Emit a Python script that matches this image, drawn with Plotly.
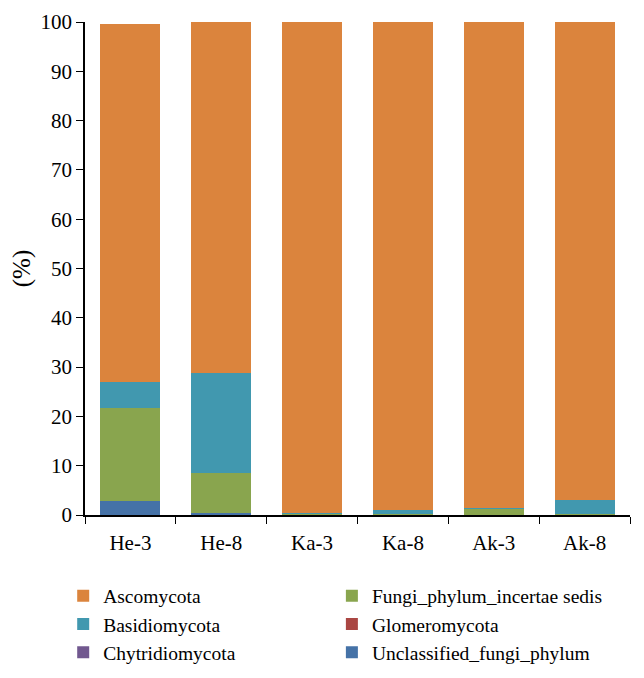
import plotly.graph_objects as go

categories = ["He-3", "He-8", "Ka-3", "Ka-8", "Ak-3", "Ak-8"]
unclassified = [2.9, 0.5, 0.05, 0.05, 0.05, 0.1]
glomeromycota = [0.0, 0.0, 0.0, 0.0, 0.0, 0.0]
chytridiomycota = [0.0, 0.0, 0.0, 0.0, 0.0, 0.0]
incertae = [18.8, 8.1, 0.3, 0.1, 1.3, 0.2]
basidiomycota = [5.3, 20.3, 0.05, 0.85, 0.05, 2.7]
ascomycota = [72.6, 71.1, 99.6, 99.4, 99.0, 97.4]

# (name, values, colour, legend column, rank within column)
series = [
    ("Unclassified_fungi_phylum", unclassified, "#4572A7", "legend2", 3),
    ("Glomeromycota", glomeromycota, "#AA4643", "legend2", 2),
    ("Chytridiomycota", chytridiomycota, "#71588F", "legend", 3),
    ("Fungi_phylum_incertae sedis", incertae, "#89A54E", "legend2", 1),
    ("Basidiomycota", basidiomycota, "#4198AF", "legend", 2),
    ("Ascomycota", ascomycota, "#DB843D", "legend", 1),
]

fig = go.Figure()
for name, vals, color, leg, rank in series:
    fig.add_trace(go.Bar(x=categories, y=vals, name=name,
                         marker=dict(color=color, line=dict(width=0)),
                         legend=leg, legendrank=rank))

font = "Liberation Serif"
leg_common = dict(orientation="v", xanchor="left", yref="container", y=0.1515, yanchor="top",
                  traceorder="normal", font=dict(size=19.5), itemwidth=30,
                  tracegroupgap=0, bgcolor="rgba(0,0,0,0)")
fig.update_layout(
    barmode="stack",
    bargap=0.34,
    width=636, height=670,
    margin=dict(l=77, r=14, t=14, b=163),
    plot_bgcolor="white", paper_bgcolor="white",
    font=dict(family=font, size=21, color="black"),
    showlegend=True,
    legend=dict(x=-0.04, **leg_common),
    legend2=dict(x=0.453, **leg_common),
    yaxis=dict(range=[0, 100], tickvals=list(range(0, 101, 10)), showgrid=False,
               showline=True, linecolor="black", linewidth=1.5, ticks="outside", ticklen=7,
               tickcolor="black", zeroline=False, automargin=False,
               title=dict(text="(%)", standoff=12)),
    xaxis=dict(showline=True, linecolor="black", linewidth=1.5, ticks="outside", ticklen=7,
               tickcolor="black", tickson="boundaries", showgrid=False, automargin=False,
               ticklabelstandoff=8),
)
fig.write_html("out.html")
